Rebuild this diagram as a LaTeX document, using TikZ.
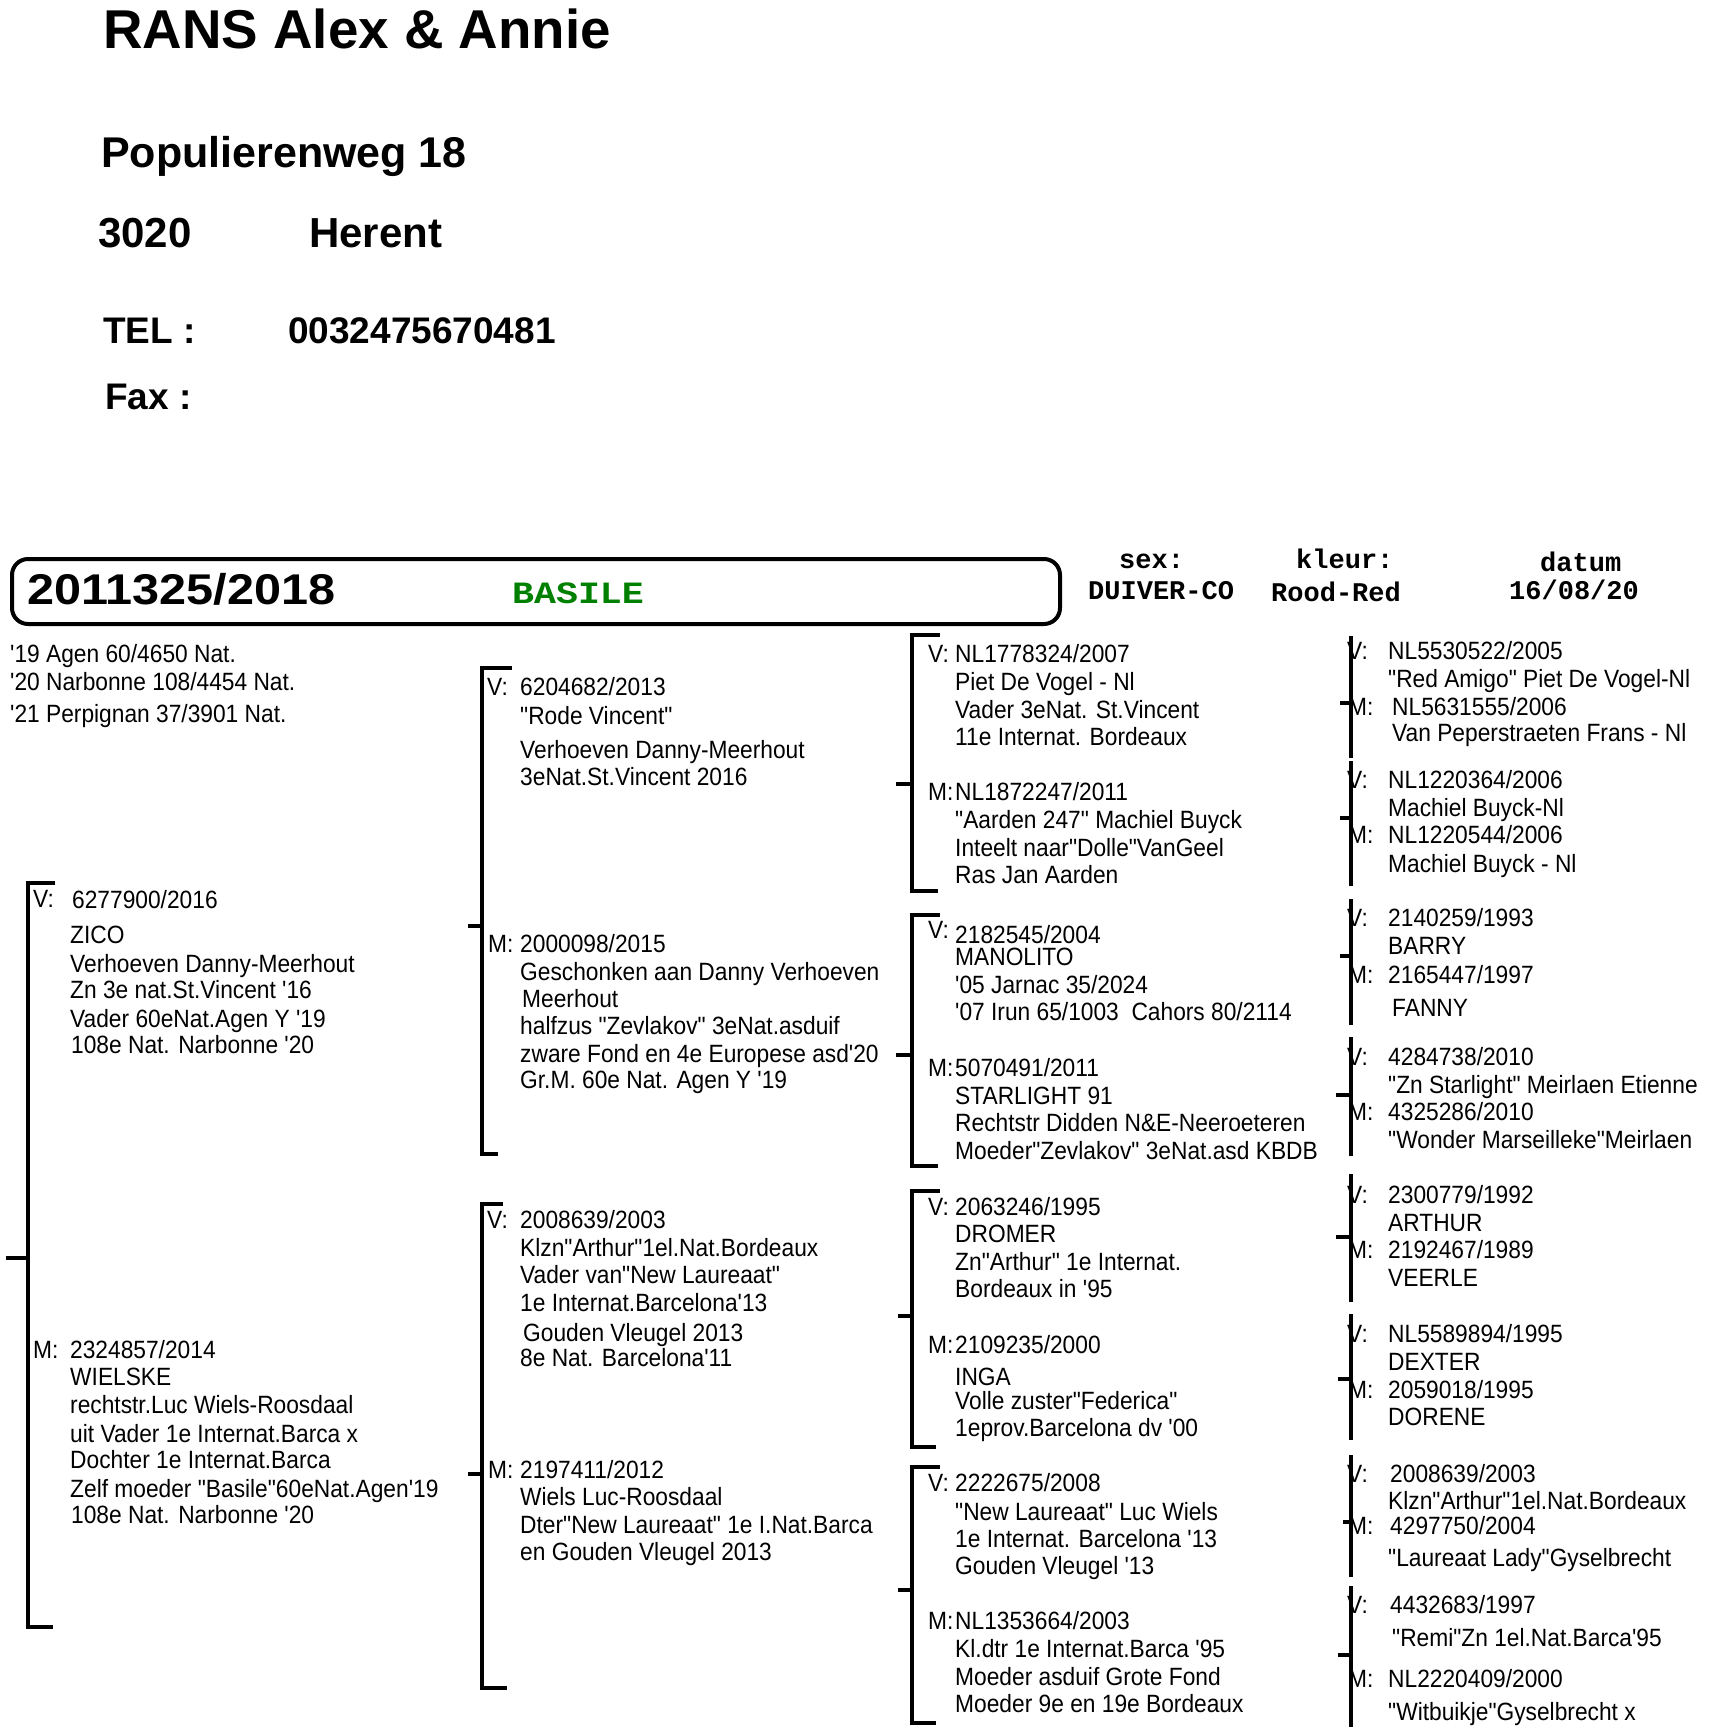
\documentclass[tikz,border=0pt]{standalone}
\usepackage{fontspec}
\setmainfont{Liberation Sans}
\newfontfamily\pedfont[FakeStretch=0.91,Ligatures=TeXOff]{Liberation Sans}
\newfontfamily\monofnt[Ligatures=TeXOff]{Liberation Mono}
\newfontfamily\hdrfont{Liberation Sans}
\definecolor{basgreen}{RGB}{0,128,0}
\newcounter{tn}
\newcommand\pl[3]{\stepcounter{tn}\node[ped] (t\arabic{tn}) at (#1,#2) {#3};}
\begin{document}
\begin{tikzpicture}[x=1pt,y=-1pt,
  ped/.style={font={\pedfont\fontsize{25}{30}\selectfont},inner sep=0pt,anchor=base west},
  hdr/.style={font={\hdrfont\bfseries\fontsize{#1}{#1}\selectfont},inner sep=0pt,anchor=base west},
  mono/.style={font={\monofnt\bfseries\fontsize{#1}{#1}\selectfont},inner sep=0pt,anchor=base west},
  brk/.style={line width=4pt,line join=miter}]
\useasboundingbox (0,0) rectangle (1720,1735);
\fill[white] (0,0) rectangle (1720,1735);

% header
\node[hdr=54.7] (title) at (103,48) {RANS Alex \& Annie};
\node[hdr=43] (street) at (101,167) {Populierenweg 18};
\node[hdr=42] (zip) at (98,247) {3020};
\node[hdr=42] (town) at (309,247) {Herent};
\node[hdr=37] (tel) at (103,343) {TEL :};
\node[hdr=37] (telnr) at (288,343) {0032475670481};
\node[hdr=37] (fax) at (105,409) {Fax :};

% title box
\node[draw,line width=4pt,rounded corners=16pt,minimum width=1048pt,minimum height=65pt,inner sep=0pt,anchor=north west] (box) at (10,557) {};
\node[hdr=43] (ring) at (27,604) {\scalebox{1.13}[1]{2011325/2018}};
\node[mono=31,text=basgreen] (name) at (512,603) {\scalebox{1.18}[1]{BASILE}};
\node[mono=27] (sexl) at (1119,568) {sex:};
\node[mono=27] (sexv) at (1088,599) {DUIVER-CO};
\node[mono=27] (kl) at (1296,568) {kleur:};
\node[mono=27] (kv) at (1271,601) {Rood-Red};
\node[mono=27] (dl) at (1540,571) {datum};
\node[mono=27] (dv) at (1509,599) {16/08/20};

% results
\pl{10}{662}{'19 Agen 60/4650 Nat.}
\pl{10}{690}{'20 Narbonne 108/4454 Nat.}
\pl{10}{722}{'21 Perpignan 37/3901 Nat.}

% brackets generation 1
\draw[brk] (55,883) -- (28,883) -- (28,1627) -- (53,1627);
\draw[brk] (6,1258) -- (28,1258);
% generation 2
\draw[brk] (512,668) -- (482,668) -- (482,1154) -- (498,1154);
\draw[brk] (468,926) -- (482,926);
\draw[brk] (503,1204) -- (482,1204) -- (482,1688) -- (507,1688);
\draw[brk] (468,1474) -- (482,1474);
% generation 3
\draw[brk] (940,635) -- (912,635) -- (912,891) -- (938,891);
\draw[brk] (896,784) -- (912,784);
\draw[brk] (940,915) -- (912,915) -- (912,1166) -- (938,1166);
\draw[brk] (896,1055) -- (912,1055);
\draw[brk] (940,1191) -- (912,1191) -- (912,1447) -- (936,1447);
\draw[brk] (898,1316) -- (912,1316);
\draw[brk] (940,1467) -- (912,1467) -- (912,1723) -- (936,1723);
\draw[brk] (898,1590) -- (912,1590);

% gen 1 text
\pl{33}{907}{V:}
\pl{72}{908}{6277900/2016}
\pl{70}{943}{ZICO}
\pl{70}{972}{Verhoeven Danny-Meerhout}
\pl{70}{998}{Zn 3e nat.St.Vincent '16}
\pl{70}{1027}{Vader 60eNat.Agen Y '19}
\pl{71}{1053}{108e Nat. Narbonne '20}
\pl{33}{1358}{M:}
\pl{70}{1358}{2324857/2014}
\pl{70}{1385}{WIELSKE}
\pl{70}{1413}{rechtstr.Luc Wiels-Roosdaal}
\pl{70}{1442}{uit Vader 1e Internat.Barca x}
\pl{70}{1468}{Dochter 1e Internat.Barca}
\pl{70}{1497}{Zelf moeder "Basile"60eNat.Agen'19}
\pl{71}{1523}{108e Nat. Narbonne '20}

% gen 2 text
\pl{487}{695}{V:}
\pl{520}{695}{6204682/2013}
\pl{520}{724}{"Rode Vincent"}
\pl{520}{758}{Verhoeven Danny-Meerhout}
\pl{520}{785}{3eNat.St.Vincent 2016}
\pl{488}{952}{M:}
\pl{520}{952}{2000098/2015}
\pl{520}{980}{Geschonken aan Danny Verhoeven}
\pl{522}{1007}{Meerhout}
\pl{520}{1034}{halfzus "Zevlakov" 3eNat.asduif}
\pl{520}{1062}{zware Fond en 4e Europese asd'20}
\pl{520}{1088}{Gr.M. 60e Nat. Agen Y '19}
\pl{487}{1228}{V:}
\pl{520}{1228}{2008639/2003}
\pl{520}{1256}{Klzn"Arthur"1el.Nat.Bordeaux}
\pl{520}{1283}{Vader van"New Laureaat"}
\pl{520}{1311}{1e Internat.Barcelona'13}
\pl{523}{1341}{Gouden Vleugel 2013}
\pl{520}{1366}{8e Nat. Barcelona'11}
\pl{488}{1478}{M:}
\pl{520}{1478}{2197411/2012}
\pl{520}{1505}{Wiels Luc-Roosdaal}
\pl{520}{1533}{Dter"New Laureaat" 1e I.Nat.Barca}
\pl{520}{1560}{en Gouden Vleugel 2013}

% gen 3 text
\pl{928}{662}{V:}
\pl{955}{662}{NL1778324/2007}
\pl{955}{690}{Piet De Vogel - Nl}
\pl{955}{718}{Vader 3eNat. St.Vincent}
\pl{955}{745}{11e Internat. Bordeaux}
\pl{928}{800}{M:}
\pl{955}{800}{NL1872247/2011}
\pl{955}{828}{"Aarden 247" Machiel Buyck}
\pl{955}{856}{Inteelt naar"Dolle"VanGeel}
\pl{955}{883}{Ras Jan Aarden}
\pl{928}{938}{V:}
\pl{955}{943}{2182545/2004}
\pl{955}{965}{MANOLITO}
\pl{955}{993}{'05 Jarnac 35/2024}
\pl{955}{1020}{'07 Irun 65/1003\ \ Cahors 80/2114}
\pl{928}{1076}{M:}
\pl{955}{1076}{5070491/2011}
\pl{955}{1104}{STARLIGHT 91}
\pl{955}{1131}{Rechtstr Didden N\&E-Neeroeteren}
\pl{955}{1159}{Moeder"Zevlakov" 3eNat.asd KBDB}
\pl{928}{1215}{V:}
\pl{955}{1215}{2063246/1995}
\pl{955}{1242}{DROMER}
\pl{955}{1270}{Zn"Arthur" 1e Internat.}
\pl{955}{1297}{Bordeaux in '95}
\pl{928}{1353}{M:}
\pl{955}{1353}{2109235/2000}
\pl{955}{1385}{INGA}
\pl{955}{1409}{Volle zuster"Federica"}
\pl{955}{1436}{1eprov.Barcelona dv '00}
\pl{928}{1491}{V:}
\pl{955}{1491}{2222675/2008}
\pl{955}{1520}{"New Laureaat" Luc Wiels}
\pl{955}{1547}{1e Internat. Barcelona '13}
\pl{955}{1574}{Gouden Vleugel '13}
\pl{928}{1629}{M:}
\pl{955}{1629}{NL1353664/2003}
\pl{955}{1657}{Kl.dtr 1e Internat.Barca '95}
\pl{955}{1685}{Moeder asduif Grote Fond}
\pl{955}{1712}{Moeder 9e en 19e Bordeaux}

% gen 4 text
\pl{1347}{659}{V:}
\pl{1388}{659}{NL5530522/2005}
\pl{1388}{687}{"Red Amigo" Piet De Vogel-Nl}
\pl{1348}{715}{M:}
\pl{1392}{715}{NL5631555/2006}
\pl{1392}{741}{Van Peperstraeten Frans - Nl}
\pl{1347}{788}{V:}
\pl{1388}{788}{NL1220364/2006}
\pl{1388}{816}{Machiel Buyck-Nl}
\pl{1348}{843}{M:}
\pl{1388}{843}{NL1220544/2006}
\pl{1388}{872}{Machiel Buyck - Nl}
\pl{1347}{926}{V:}
\pl{1388}{926}{2140259/1993}
\pl{1388}{954}{BARRY}
\pl{1348}{983}{M:}
\pl{1388}{983}{2165447/1997}
\pl{1392}{1016}{FANNY}
\pl{1347}{1065}{V:}
\pl{1388}{1065}{4284738/2010}
\pl{1388}{1093}{"Zn Starlight" Meirlaen Etienne}
\pl{1348}{1120}{M:}
\pl{1388}{1120}{4325286/2010}
\pl{1388}{1148}{"Wonder Marseilleke"Meirlaen}
\pl{1347}{1203}{V:}
\pl{1388}{1203}{2300779/1992}
\pl{1388}{1231}{ARTHUR}
\pl{1348}{1258}{M:}
\pl{1388}{1258}{2192467/1989}
\pl{1388}{1286}{VEERLE}
\pl{1347}{1342}{V:}
\pl{1388}{1342}{NL5589894/1995}
\pl{1388}{1370}{DEXTER}
\pl{1348}{1398}{M:}
\pl{1388}{1398}{2059018/1995}
\pl{1388}{1425}{DORENE}
\pl{1347}{1482}{V:}
\pl{1390}{1482}{2008639/2003}
\pl{1388}{1509}{Klzn"Arthur"1el.Nat.Bordeaux}
\pl{1348}{1534}{M:}
\pl{1390}{1534}{4297750/2004}
\pl{1388}{1566}{"Laureaat Lady"Gyselbrecht}
\pl{1347}{1613}{V:}
\pl{1390}{1613}{4432683/1997}
\pl{1392}{1646}{"Remi"Zn 1el.Nat.Barca'95}
\pl{1348}{1687}{M:}
\pl{1388}{1687}{NL2220409/2000}
\pl{1388}{1720}{"Witbuikje"Gyselbrecht x}

% generation 4 brackets (drawn over the V/M labels)
\draw[brk] (1351,636) -- (1351,758);  \draw[brk] (1340,703) -- (1351,703);
\draw[brk] (1351,761) -- (1351,886);  \draw[brk] (1340,818) -- (1351,818);
\draw[brk] (1351,899) -- (1351,1025); \draw[brk] (1340,956) -- (1351,956);
\draw[brk] (1351,1037) -- (1351,1156);\draw[brk] (1336,1095) -- (1351,1095);
\draw[brk] (1351,1174) -- (1351,1302);\draw[brk] (1336,1237) -- (1351,1237);
\draw[brk] (1351,1314) -- (1351,1440);\draw[brk] (1338,1379) -- (1351,1379);
\draw[brk] (1351,1455) -- (1351,1577);\draw[brk] (1343,1522) -- (1351,1522);
\draw[brk] (1351,1586) -- (1351,1727);\draw[brk] (1338,1655) -- (1351,1655);
\end{tikzpicture}
\end{document}
